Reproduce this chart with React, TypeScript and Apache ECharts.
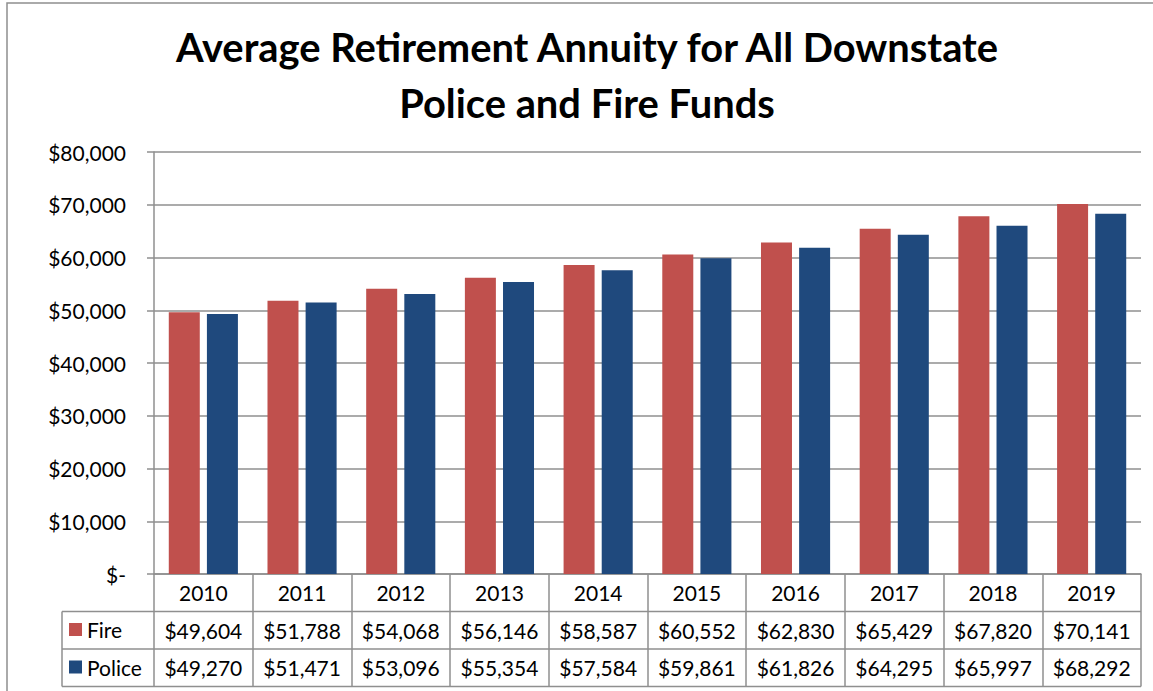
import React, { useEffect, useRef } from "react";
import * as echarts from "echarts";

const years = ["2010", "2011", "2012", "2013", "2014", "2015", "2016", "2017", "2018", "2019"];
const fireValues = [49604, 51788, 54068, 56146, 58587, 60552, 62830, 65429, 67820, 70141];
const policeValues = [49270, 51471, 53096, 55354, 57584, 59861, 61826, 64295, 65997, 68292];
const seriesNames = ["Fire", "Police"];
const titleLines = ["Average Retirement Annuity for All Downstate", "Police and Fire Funds"];
const yMin = 0;
const yMax = 80000;
const yInterval = 10000;

const FONT = "Lato";
const GRAY = "#8f8f8f";

const money = (v: number) => (v === 0 ? "$-" : "$" + v.toLocaleString("en-US"));

function fitFont(text: string, weight: string, family: string, target: number) {
  const ctx = document.createElement("canvas").getContext("2d");
  if (!ctx) return 36;
  ctx.font = `${weight} 100px ${family}`;
  const w = ctx.measureText(text).width;
  return w > 0 ? (100 * target) / w : 36;
}

export default function App() {
  const ref = useRef<HTMLDivElement>(null);
  useEffect(() => {
    if (!ref.current) return;
    const chart = echarts.init(ref.current, null, { renderer: "svg" });
    const W = 1153;
    const H = 691;
    const gridLeft = 154;
    const gridRight = 1141;
    const gridTop = 152;
    const axisY = 574;
    const rowH = 37.5;
    const tableLeft = 62;
    const titleSize = fitFont(titleLines[0], "bold", FONT, 827);

    const tableLines: any[] = [];
    for (let k = 1; k <= 3; k++) {
      tableLines.push({
        type: "line",
        shape: { x1: tableLeft, y1: axisY + rowH * k, x2: gridRight, y2: axisY + rowH * k },
        style: { stroke: GRAY, lineWidth: 1.5 },
      });
    }
    tableLines.push({
      type: "line",
      shape: { x1: tableLeft, y1: axisY + rowH, x2: tableLeft, y2: axisY + rowH * 3 },
      style: { stroke: GRAY, lineWidth: 1.5 },
    });

    chart.setOption({
      animation: false,
      backgroundColor: "#ffffff",
      textStyle: { fontFamily: FONT },
      grid: { left: gridLeft, right: W - gridRight, top: gridTop, bottom: H - axisY, containLabel: false },
      legend: {
        data: seriesNames,
        orient: "vertical",
        left: 69,
        top: axisY + rowH + 6,
        padding: 0,
        itemWidth: 13,
        itemHeight: 13,
        itemGap: 13.5,
        icon: "rect",
        textStyle: { fontSize: 21, color: "#000", fontFamily: FONT, lineHeight: 24 },
      },
      xAxis: {
        type: "category",
        data: years,
        axisLine: { show: true, lineStyle: { color: GRAY, width: 1.5 } },
        axisTick: {
          show: true,
          interval: 0,
          alignWithLabel: false,
          length: rowH * 3,
          lineStyle: { color: GRAY, width: 1.5 },
        },
        axisLabel: {
          interval: 0,
          margin: 0,
          formatter: (value: string, index: number) =>
            `{a|${value}}\n{a|${money(fireValues[index])}}\n{a|${money(policeValues[index])}}`,
          rich: {
            a: { fontSize: 21, lineHeight: rowH, color: "#000", fontFamily: FONT },
          },
        },
      },
      yAxis: {
        type: "value",
        min: yMin,
        max: yMax,
        interval: yInterval,
        axisLine: { show: true, lineStyle: { color: GRAY, width: 1.5 } },
        axisTick: { show: true, length: 7, lineStyle: { color: GRAY, width: 1.5 } },
        axisLabel: {
          margin: 28,
          fontSize: 21,
          color: "#000",
          fontFamily: FONT,
          formatter: (v: number) => money(v),
        },
        splitLine: { show: true, lineStyle: { color: GRAY, width: 1.5 } },
      },
      series: [
        {
          name: seriesNames[0],
          type: "bar",
          data: fireValues,
          barWidth: 31,
          barGap: "23%",
          itemStyle: { color: "#C0504D" },
        },
        {
          name: seriesNames[1],
          type: "bar",
          data: policeValues,
          barWidth: 31,
          barGap: "23%",
          itemStyle: { color: "#1F497D" },
        },
      ],
      graphic: [
        {
          type: "rect",
          shape: { x: 7, y: 3, width: 1200, height: 760 },
          style: { fill: "none", stroke: GRAY, lineWidth: 1.5 },
          silent: true,
        },
        {
          type: "text",
          x: 587,
          y: 46,
          style: {
            text: titleLines[0],
            font: `bold ${titleSize}px ${FONT}`,
            fill: "#000",
            textAlign: "center",
            textVerticalAlign: "middle",
          },
        },
        {
          type: "text",
          x: 587,
          y: 102,
          style: {
            text: titleLines[1],
            font: `bold ${titleSize}px ${FONT}`,
            fill: "#000",
            textAlign: "center",
            textVerticalAlign: "middle",
          },
        },
        ...tableLines,
      ],
    });
    return () => chart.dispose();
  }, []);
  return (
    <div
      ref={ref}
      style={{ position: "fixed", left: 0, top: 0, width: 1153, height: 691, background: "#fff" }}
    />
  );
}
